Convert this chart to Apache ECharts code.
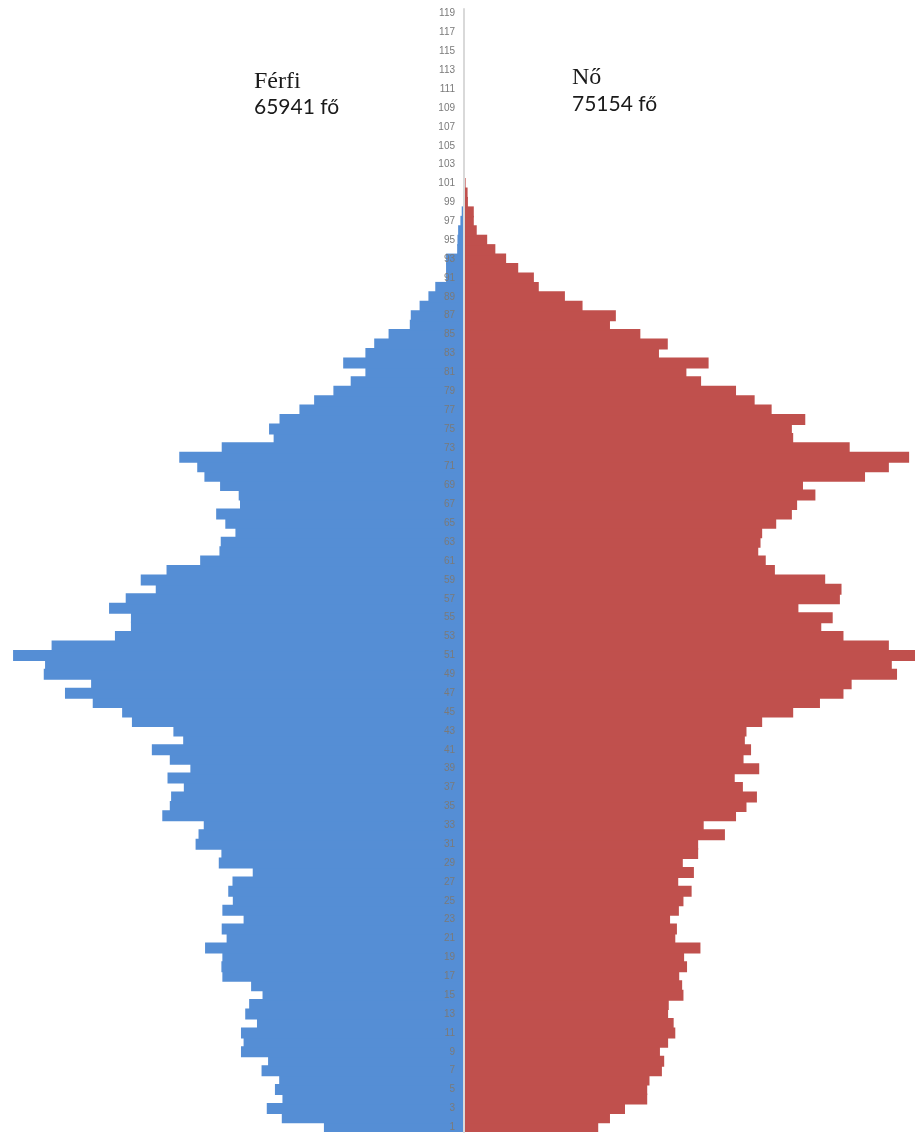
<!DOCTYPE html>
<html>
<head>
<meta charset="utf-8">
<script src="https://cdn.jsdelivr.net/npm/echarts@6/dist/echarts.min.js"></script>
<style>
  html, body { margin: 0; padding: 0; background: #ffffff; }
  #chart { width: 915px; height: 1133px; }
</style>
</head>
<body>
<div id="chart"></div>
<script>
// Age categories (1..119), labelled every second one
const ages = Array.from({ length: 119 }, (_, i) => String(i + 1));

// Male population by age (1..119)
const male = [
  429, 558, 604, 556, 579, 566, 620, 600, 683, 675,
  683, 634, 670, 658, 617, 652, 740, 743, 740, 793,
  727, 742, 675, 740, 708, 722, 709, 647, 751, 743,
  822, 813, 797, 924, 901, 897, 858, 908, 838, 901,
  956, 860, 890, 1017, 1047, 1137, 1222, 1142, 1287, 1283,
  1381, 1263, 1069, 1020, 1020, 1087, 1036, 944, 990, 911,
  808, 749, 745, 700, 731, 759, 686, 690, 747, 795,
  817, 872, 742, 583, 597, 565, 504, 459, 400, 347,
  302, 370, 302, 275, 231, 166, 163, 136, 109, 88,
  55, 55, 55, 21, 20, 18, 11, 7, 2, 0,
  0, 0, 0, 0, 0, 0, 0, 0, 0, 0,
  0, 0, 0, 0, 0, 0, 0, 0, 0
];

// Female population by age (1..119)
const female = [
  411, 447, 493, 561, 561, 568, 606, 613, 600, 625,
  647, 642, 625, 627, 672, 668, 659, 683, 674, 724,
  647, 652, 631, 658, 672, 697, 656, 704, 670, 717,
  717, 799, 734, 833, 865, 897, 854, 829, 904, 856,
  879, 860, 865, 913, 1008, 1090, 1162, 1187, 1326, 1310,
  1400, 1301, 1162, 1094, 1129, 1024, 1151, 1156, 1106, 952,
  924, 901, 908, 913, 956, 1004, 1020, 1076, 1038, 1228,
  1301, 1363, 1181, 1008, 1004, 1045, 942, 890, 833, 726,
  681, 749, 597, 624, 540, 447, 465, 363, 309, 229,
  214, 166, 129, 96, 71, 39, 30, 30, 12, 11,
  5, 0, 0, 0, 0, 0, 0, 0, 0, 0,
  0, 0, 0, 0, 0, 0, 0, 0, 0
];

const maleTitle = ['Férfi', '65941 fő'];
const femaleTitle = ['Nő', '75154 fő'];

const chart = echarts.init(document.getElementById('chart'), null, { renderer: 'canvas' });

chart.setOption({
  animation: false,
  backgroundColor: '#ffffff',
  grid: [
    { left: 0, width: 464, top: 9, bottom: 1, containLabel: false, outerBoundsMode: 'none' },
    { left: 464, right: 0, top: 9, bottom: 1, containLabel: false, outerBoundsMode: 'none' }
  ],
  xAxis: [
    { type: 'value', gridIndex: 0, min: 0, max: 1421, inverse: true, show: false },
    { type: 'value', gridIndex: 1, min: 0, max: 1381, show: false }
  ],
  yAxis: [
    {
      type: 'category', gridIndex: 0, data: ages, show: false
    },
    {
      type: 'category', gridIndex: 1, data: ages, position: 'left',
      zlevel: 1,
      z: 10,
      axisLine: { show: true, onZero: false, lineStyle: { color: '#d9d9d9', width: 2 } },
      axisTick: { show: false },
      axisLabel: {
        interval: 1,
        margin: 9,
        color: '#7a7a7a',
        fontSize: 10,
        fontFamily: 'Liberation Sans, Arial, sans-serif'
      },
      splitLine: { show: false }
    }
  ],
  series: [
    {
      name: 'Férfi',
      type: 'bar',
      xAxisIndex: 0,
      yAxisIndex: 0,
      data: male,
      barWidth: 11,
      itemStyle: { color: '#558ed5' }
    },
    {
      name: 'Nő',
      type: 'bar',
      xAxisIndex: 1,
      yAxisIndex: 1,
      data: female,
      barWidth: 11,
      itemStyle: { color: '#c0504d' }
    }
  ],
  graphic: [
    { type: 'text', left: 254, top: 70, style: { text: maleTitle[0], font: '24px "Liberation Serif", serif', fill: '#1a1a1a' } },
    { type: 'text', left: 254, top: 97, style: { text: maleTitle[1], font: '21px Lato, "Liberation Sans", sans-serif', fill: '#1a1a1a' } },
    { type: 'text', left: 572, top: 66, style: { text: femaleTitle[0], font: '24px "Liberation Serif", serif', fill: '#1a1a1a' } },
    { type: 'text', left: 572, top: 94, style: { text: femaleTitle[1], font: '21px Lato, "Liberation Sans", sans-serif', fill: '#1a1a1a' } }
  ]
});
</script>
</body>
</html>
